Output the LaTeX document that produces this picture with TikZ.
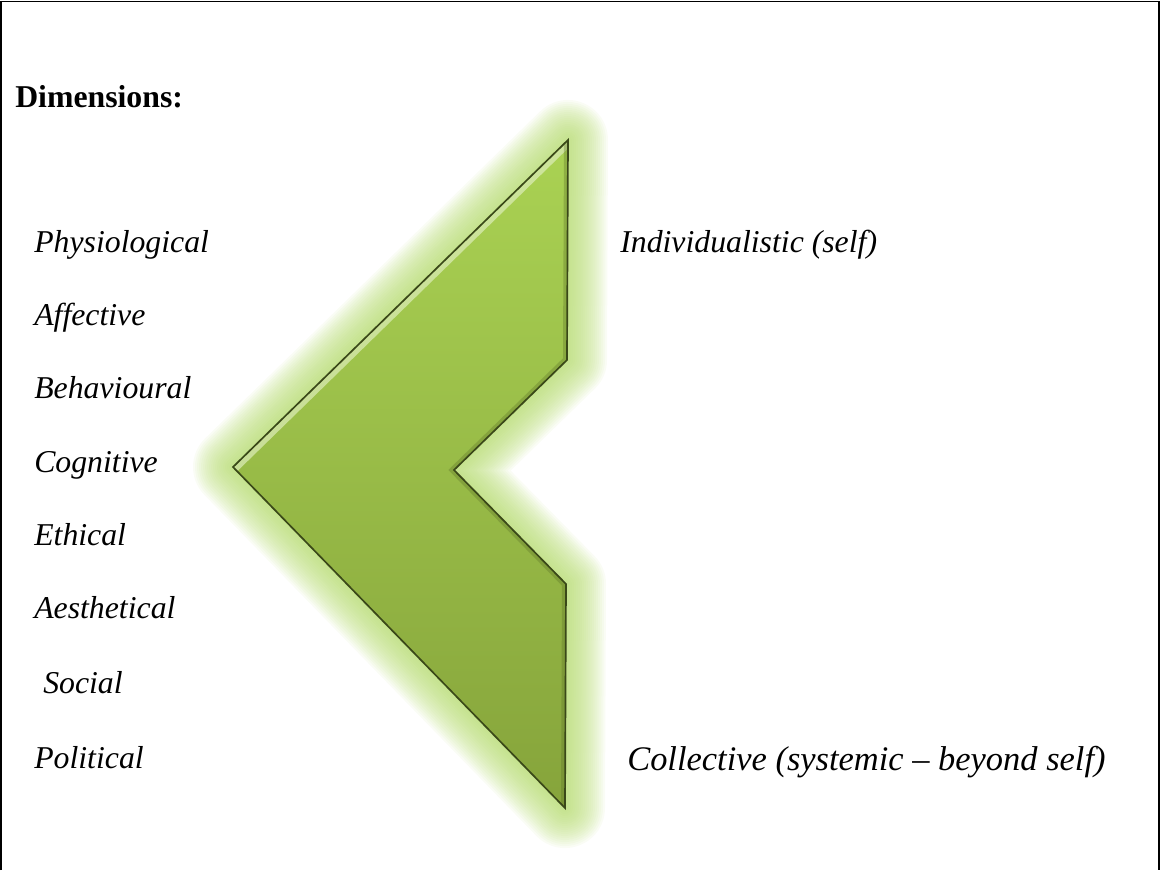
\documentclass[tikz,border=0pt]{standalone}
\usepackage{fontspec}
\setmainfont{Liberation Serif}
\usetikzlibrary{calc}

\definecolor{chevlight}{HTML}{AAD253}
\definecolor{chevdark}{HTML}{86A43B}
\definecolor{chevedge}{HTML}{3A4818}
\definecolor{chevglow}{HTML}{B2D969}

\begin{document}
\begin{tikzpicture}[
    dimlabel/.style={anchor=base west, inner sep=0pt, font=\fontsize{22.6}{27}\selectfont\itshape},
    headlabel/.style={anchor=base west, inner sep=0pt, font=\fontsize{22.6}{27}\selectfont\bfseries},
  ]
	\useasboundingbox (0,0) rectangle (29.025,-21.75);

	% frame (open at the bottom)
	\draw[line width=1.4pt] (0.025,-21.75) -- (0.025,-0.0375) -- (28.975,-0.0375) -- (28.975,-21.75);

	% corners of the chevron
	\coordinate (top) at (14.2,-3.5);
	\coordinate (upr) at (14.175,-9.0);
	\coordinate (notch) at (11.35,-11.75);
	\coordinate (lowr) at (14.15,-14.6);
	\coordinate (bot) at (14.125,-20.2);
	\coordinate (tip) at (5.825,-11.675);

	% soft glow round the chevron
	\foreach \w in {0.1,0.2,...,2.0}
	  \draw[chevglow, opacity=.065, line width=\w cm, line join=round]
	    (top) -- (upr) -- (notch) -- (lowr) -- (bot) -- (tip) -- cycle;

	% chevron body
	\shade[top color=chevlight, bottom color=chevdark]
	  (top) -- (upr) -- (notch) -- (lowr) -- (bot) -- (tip) -- cycle;
	\begin{scope}
	  \clip (top) -- (upr) -- (notch) -- (lowr) -- (bot) -- (tip) -- cycle;
	  \draw[white!60!chevlight, opacity=.7, line width=0.3cm] (tip) -- (top);
	  \draw[chevdark!70!black, opacity=.35, line width=0.2cm] (top) -- (upr) -- (notch) -- (lowr) -- (bot);
	\end{scope}
	\draw[chevedge, line width=1.2pt, line join=miter]
	  (top) -- (upr) -- (notch) -- (lowr) -- (bot) -- (tip) -- cycle;

	% heading
	\node[headlabel] (dimhead) at (0.375,-2.675) {Dimensions:};

	% dimensions on the left
	\node[dimlabel] (physio) at (0.85,-6.3) {Physiological};
	\node[dimlabel] (affect) at (0.85,-8.125) {Affective};
	\node[dimlabel] (behav) at (0.85,-9.95) {Behavioural};
	\node[dimlabel] (cogn) at (0.85,-11.8) {Cognitive};
	\node[dimlabel] (ethic) at (0.85,-13.625) {Ethical};
	\node[dimlabel] (aesth) at (0.85,-15.45) {Aesthetical};
	\node[dimlabel] (social) at (1.075,-17.325) {Social};
	\node[dimlabel] (polit) at (0.85,-19.2) {Political};

	% ends of the range on the right
	\node[dimlabel] (indiv) at (15.5,-6.3) {Individualistic (self)};
	\node[dimlabel, font=\fontsize{24.5}{29}\selectfont\itshape] (collect) at (15.675,-19.25) {Collective (systemic -- beyond self)};
\end{tikzpicture}
\end{document}
